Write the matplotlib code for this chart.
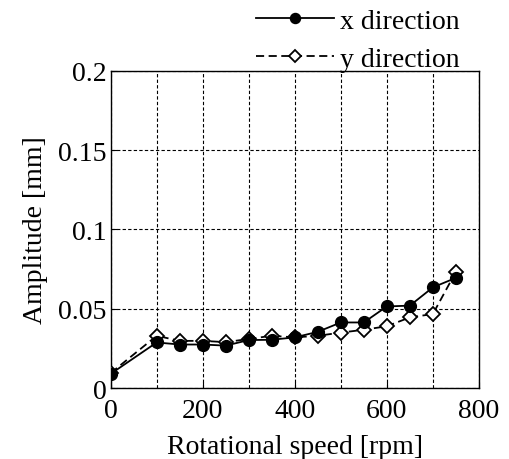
import matplotlib
matplotlib.use('Agg')
import matplotlib.pyplot as plt

plt.rcParams['font.family'] = ['Liberation Serif', 'DejaVu Serif']
plt.rcParams['mathtext.fontset'] = 'stix'

speed = [0, 100, 150, 200, 250, 300, 350, 400, 450, 500, 550, 600, 650, 700, 750]
amp_x = [0.009, 0.0288, 0.0275, 0.0275, 0.0268, 0.0303, 0.0305, 0.032, 0.0355,
         0.0414, 0.0414, 0.0515, 0.052, 0.0635, 0.0695]
amp_y = [0.0095, 0.033, 0.0298, 0.0298, 0.029, 0.031, 0.033, 0.032, 0.033,
         0.035, 0.0368, 0.039, 0.0446, 0.0467, 0.0733]

xticks = [0, 200, 400, 600, 800]
yticks = [0, 0.05, 0.1, 0.15, 0.2]
yticklabels = ['0', '0.05', '0.1', '0.15', '0.2']

fig = plt.figure(figsize=(5.1, 4.6), dpi=100)
ax = fig.add_axes([0.217, 0.154, 0.722, 0.69])

ax.plot(speed, amp_x, '-', color='black', linewidth=1.3, marker='o',
        markersize=8.5, markerfacecolor='black', label='x direction', zorder=4)
ax.plot(speed, amp_y, '--', color='black', linewidth=1.3, marker='D',
        markersize=7.5, markerfacecolor='white', markeredgewidth=1.3,
        label='y direction', zorder=3, dashes=(4.5, 2.5))

ax.set_xlim(0, 800)
ax.set_ylim(0, 0.2)
ax.set_xticks(xticks)
ax.set_yticks(yticks)
ax.set_yticklabels(yticklabels)
ax.xaxis.set_minor_locator(matplotlib.ticker.MultipleLocator(100))
ax.grid(True, which='both', linestyle=(0, (3, 2)), color='black', linewidth=0.8)
ax.tick_params(direction='in', labelsize=20, length=4, which='both', pad=3)
ax.tick_params(axis='x', pad=7)
ax.tick_params(which='minor', length=0)
for s in ax.spines.values():
    s.set_linewidth(1.0)

ax.set_xlabel('Rotational speed [rpm]', fontsize=20, labelpad=8)
ax.set_ylabel('Amplitude [mm]', fontsize=20, labelpad=7)

leg = ax.legend(loc='upper right', bbox_to_anchor=(0.94, 1.022),
                bbox_transform=fig.transFigure, frameon=False,
                fontsize=20, handlelength=2.8, handletextpad=0.22,
                labelspacing=0.45, borderpad=0.2, markerscale=0.85)

fig.savefig('out.png', dpi=100)
